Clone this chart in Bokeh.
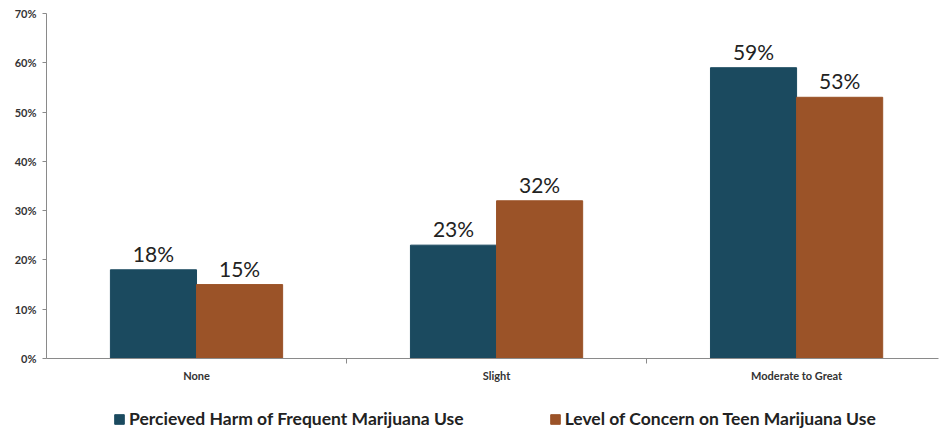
import numpy as np
from bokeh.plotting import figure
from bokeh.layouts import column
from bokeh.models import (ColumnDataSource, FixedTicker, Legend, LegendItem,
                          NumeralTickFormatter, Range1d)
from bokeh.core.properties import value
from bokeh.embed import file_html
from bokeh.resources import INLINE

# Survey results by level of perceived harm / concern
categories = ["None", "Slight", "Moderate to Great"]
harm = [0.18, 0.23, 0.59]
concern = [0.15, 0.32, 0.53]
series_names = ["Percieved Harm of Frequent Marijuana Use",
                "Level of Concern on Teen Marijuana Use"]
y_ticks = [0, 0.1, 0.2, 0.3, 0.4, 0.5, 0.6, 0.7]

BLUE = "#1B4A5F"
ORANGE = "#9B5328"
AXIS = "#8a8a8a"
BAR_W = 0.287

centers = [i + 0.5 for i in range(len(categories))]
src_harm = ColumnDataSource(dict(
    x=[c - BAR_W / 2 for c in centers], top=harm,
    label=[f"{round(v * 100)}%" for v in harm]))
src_concern = ColumnDataSource(dict(
    x=[c + BAR_W / 2 for c in centers], top=concern,
    label=[f"{round(v * 100)}%" for v in concern]))

p = figure(width=941, height=390, output_backend="svg", toolbar_location=None,
           x_range=Range1d(0, 2.973), y_range=Range1d(0, 0.70),
           min_border_left=46, min_border_right=3, min_border_top=13,
           min_border_bottom=32)
p.outline_line_color = None
p.grid.grid_line_color = None
p.background_fill_color = "white"
p.border_fill_color = "white"

p.vbar(x="x", top="top", width=BAR_W, source=src_harm,
       fill_color=BLUE, line_color=BLUE)
p.vbar(x="x", top="top", width=BAR_W, source=src_concern,
       fill_color=ORANGE, line_color=ORANGE)

for src in (src_harm, src_concern):
    p.text(x="x", y="top", text="label", source=src, y_offset=-4,
           text_align="center", text_baseline="bottom",
           text_font=value("Lato"), text_font_size="21px", text_color="#222222")

# y axis
p.yaxis.ticker = FixedTicker(ticks=y_ticks)
p.yaxis.formatter = NumeralTickFormatter(format="0%")
p.yaxis.major_label_text_font = "Lato"
p.yaxis.major_label_text_font_style = "bold"
p.yaxis.major_label_text_font_size = "11px"
p.yaxis.major_label_text_color = "#333333"
p.yaxis.axis_line_color = AXIS
p.yaxis.major_tick_line_color = AXIS
p.yaxis.major_tick_out = 4
p.yaxis.major_tick_in = 0
p.yaxis.minor_tick_line_color = None
p.yaxis.major_label_standoff = 6

# x axis: labels at category centres, tick marks at boundaries
p.xaxis.ticker = FixedTicker(ticks=centers, minor_ticks=[1, 2])
p.xaxis.major_label_overrides = {c: name for c, name in zip(centers, categories)}
p.xaxis.major_label_text_font = "Lato"
p.xaxis.major_label_text_font_style = "bold"
p.xaxis.major_label_text_font_size = "11px"
p.xaxis.major_label_text_color = "#333333"
p.xaxis.axis_line_color = AXIS
p.xaxis.major_tick_line_color = None
p.xaxis.major_tick_out = 0
p.xaxis.major_tick_in = 0
p.xaxis.minor_tick_line_color = AXIS
p.xaxis.minor_tick_out = 5
p.xaxis.minor_tick_in = 0
p.xaxis.major_label_standoff = 5

# legend strip beneath the chart; key swatches come from bars with no drawn data
leg = figure(width=941, height=43, output_backend="svg", toolbar_location=None,
             x_range=Range1d(0, 1), y_range=Range1d(0, 1),
             x_axis_type=None, y_axis_type=None,
             min_border=0)
leg.outline_line_color = None
leg.grid.grid_line_color = None
nan = np.array([np.nan])
k1 = leg.vbar(x=nan, top=nan, width=0.1, fill_color=BLUE, line_color=BLUE)
k2 = leg.vbar(x=nan, top=nan, width=0.1, fill_color=ORANGE, line_color=ORANGE)
legend = Legend(items=[LegendItem(label=series_names[0], renderers=[k1]),
                       LegendItem(label=series_names[1], renderers=[k2])],
                orientation="horizontal", location=(67, 4),
                glyph_width=12, glyph_height=12, spacing=85,
                label_text_font="Lato", label_text_font_style="bold",
                label_text_font_size="17.5px", label_text_color="#222222",
                label_standoff=4, border_line_color=None,
                background_fill_alpha=0, padding=2, margin=0)
leg.add_layout(legend)

open("out.html", "w").write(file_html(column(p, leg, spacing=0), INLINE))
